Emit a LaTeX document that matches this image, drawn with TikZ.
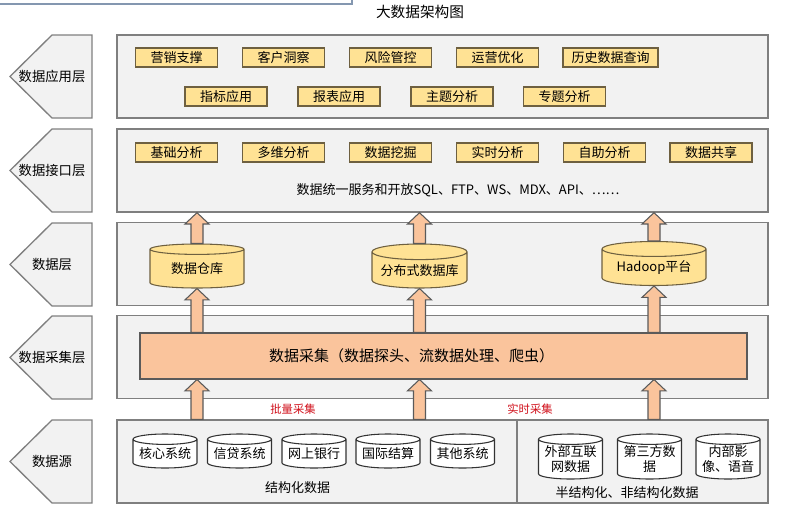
\documentclass[tikz,border=0pt]{standalone}
\usepackage{fontspec}
\setmainfont{Noto Sans CJK SC}
\usepackage{tikz}
\usetikzlibrary{shapes.geometric, calc, positioning}
\definecolor{panelfill}{HTML}{F2F2F2}
\definecolor{paneldraw}{HTML}{7F7F7F}
\definecolor{boxfill}{HTML}{FFE294}
\definecolor{boxdraw}{HTML}{6E6040}
\definecolor{peach}{HTML}{FAC49C}
\definecolor{peachdraw}{HTML}{5A5A5A}
\definecolor{cutline}{HTML}{8497B0}
\definecolor{redtext}{HTML}{D0101B}
\tikzset{
  % layer styles
  tagshape/.style={draw=paneldraw, fill=panelfill, line width=1pt},
  taglabel/.style={font=\fontsize{10}{12}\selectfont, inner sep=0pt},
  panel/.style={rectangle, draw=paneldraw, fill=panelfill, line width=1pt, minimum width=488.25pt, minimum height=62.25pt, inner sep=0pt},
  % item styles
  item/.style={rectangle, draw=boxdraw, fill=boxfill, line width=0.8pt, minimum width=#1, minimum height=14.25pt, inner sep=0pt, font=\fontsize{9.75}{11}\selectfont},
  item/.default={61.5pt},
  store/.style={cylinder, shape border rotate=90, aspect=0.2, draw=boxdraw, fill=boxfill, line width=0.8pt, minimum width=#1, minimum height=33pt, inner sep=0pt, font=\fontsize{9.75}{11}\selectfont},
  store/.default={70.5pt},
  sys/.style={cylinder, shape border rotate=90, aspect=0.2, draw=black!80, fill=white, line width=0.8pt, minimum width=48pt, minimum height=#1, inner sep=0pt, align=center, font=\fontsize{9.75}{11.25}\selectfont},
  sys/.default={25.5pt},
  plain/.style={inner sep=0pt, font=\fontsize{9.75}{11}\selectfont},
  redlabel/.style={inner sep=0pt, text=redtext, font=\fontsize{8.5}{10}\selectfont},
  uparrow/.style={draw=peachdraw, fill=peach, line width=0.8pt, line join=miter},
}
% block arrow pointing up from #1 to #2
\newcommand{\blockup}[2]{%
  \draw[uparrow] let \p1=(#1), \p2=(#2) in
    (\x1-4.5pt,\y1) -- (\x1-4.5pt,\y2-8.5pt) -- (\x1-9pt,\y2-8.5pt) -- (\x1,\y2)
    -- (\x1+9pt,\y2-8.5pt) -- (\x1+4.5pt,\y2-8.5pt) -- (\x1+4.5pt,\y1) -- cycle;
}

\begin{document}
\begin{tikzpicture}[x=0.75pt, y=-0.75pt]
  \useasboundingbox (0,0) rectangle (796,511);

  % Cut-off frame at the top
  \draw[cutline, line width=0.8pt] (0,4) -- (352,4) -- (352,0);

  % Title
  \node[inner sep=0pt, font=\fontsize{11}{13}\selectfont] (title) at (420,12) {大数据架构图};

  % Layer tags
  \foreach \y/\lbl/\nm in {35/数据应用层/app, 129/数据接口层/api, 223/数据层/dl, 316/数据采集层/acq, 420/数据源/src} {
    \draw[tagshape] (52,\y) -- (92,\y) -- (92,\y+83) -- (52,\y+83) -- (10,\y+41.5) -- cycle;
    \node[taglabel] (tag-\nm) at (52,\y+41.5) {\lbl};
  }

  % Layer panels
  \node[panel] (app) at (442.5,76.5) {};
  \node[panel] (api) at (442.5,170.5) {};
  \node[panel] (dl) at (442.5,264) {};
  \node[panel] (acq) at (442.5,357) {};
  \node[panel] (src) at (442.5,461.5) {};
  \draw[paneldraw, line width=1pt] (517,0 |- src.north) -- (517,0 |- src.south);

  % Application layer
  \foreach \i/\x/\t in {1/176.5/营销支撑, 2/283.5/客户洞察, 3/390.5/风险管控, 4/497.5/运营优化} {
    \node[item] (app\i) at (\x,57.5) {\t};
  }
  \node[item=71.25pt] (app5) at (610.5,57.5) {历史数据查询};
  \foreach \i/\x/\t in {6/226/指标应用, 7/339/报表应用, 8/452/主题分析, 9/564.5/专题分析} {
    \node[item] (app\i) at (\x,96.5) {\t};
  }

  % Interface layer
  \foreach \i/\x/\t in {1/176.5/基础分析, 2/283.5/多维分析, 3/390.5/数据挖掘, 4/497.5/实时分析, 5/604.5/自助分析, 6/711/数据共享} {
    \node[item] (api\i) at (\x,152.5) {\t};
  }
  \node[plain] (api-txt) at (458,190) {数据统一服务和开放SQL、FTP、WS、MDX、API、……};

  % Data layer
  \node[store, anchor=shape center] (dw) at (197,266) {数据仓库};
  \node[store=71.25pt, anchor=shape center] (ddb) at (419.5,266) {分布式数据库};
  \node[store=78pt, anchor=shape center] (hdp) at (654,263.5) {Hadoop平台};

  % Acquisition layer
  \node[rectangle, draw=peachdraw, fill=peach, line width=0.8pt, minimum width=455.25pt, minimum height=34.5pt, inner sep=0pt] (collect) at (443.5,356) {};
  \node[inner sep=0pt, font=\fontsize{11.25}{13}\selectfont] (collect-txt) at (411.5,356) {数据采集（数据探头、流数据处理、爬虫）};

  % Data sources
  \foreach \i/\x/\t in {1/165/核心系统, 2/239.5/信贷系统, 3/314/网上银行, 4/388/国际结算, 5/462.5/其他系统} {
    \node[sys, anchor=shape center] (s\i) at (\x,451) {\t};
  }
  \node[sys=33.75pt, anchor=shape center] (e1) at (570.5,456.5) {外部互联\\网数据};
  \node[sys=33.75pt, anchor=shape center] (e2) at (649.5,456.5) {第三方数\\据};
  \node[sys=33.75pt, anchor=shape center] (e3) at (728,456.5) {内部影\\像、语音};
  \node[plain] (struct) at (297.5,488) {结构化数据};
  \node[plain] (unstruct) at (627,493) {半结构化、非结构化数据};

  % Labels on the gap
  \node[redlabel] (batch) at (293,409) {批量采集};
  \node[redlabel] (stream) at (530,409) {实时采集};

  % Block arrows
  \blockup{dw.north}{dw |- api.south}
  \blockup{ddb.north}{ddb |- api.south}
  \blockup{hdp.north}{hdp |- api.south}
  \blockup{dw |- collect.north}{dw.south}
  \blockup{ddb |- collect.north}{ddb.south}
  \blockup{hdp |- collect.north}{hdp.south}
  \blockup{dw |- src.north}{dw |- collect.south}
  \blockup{ddb |- src.north}{ddb |- collect.south}
  \blockup{hdp |- src.north}{hdp |- collect.south}
\end{tikzpicture}
\end{document}
